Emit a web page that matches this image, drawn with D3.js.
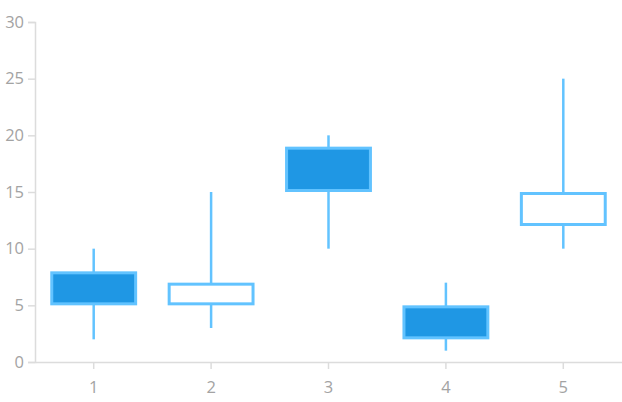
<!DOCTYPE html>
<html>
<head>
<meta charset="utf-8">
<script src="https://cdn.jsdelivr.net/npm/d3@7"></script>
<style>
  html, body { margin: 0; padding: 0; background: #fff; }
  svg { display: block; }
  .tick text { font-family: "Segoe UI", "Open Sans", "Noto Sans", sans-serif; font-weight: 400; font-size: 16.5px; fill: #a3a3a3; }
</style>
</head>
<body>
<svg id="chart" width="622" height="402"></svg>
<script>
const categories = ["1", "2", "3", "4", "5"];
const openValues  = [8, 5, 19, 5, 12];
const highValues  = [10, 15, 20, 7, 25];
const lowValues   = [2, 3, 10, 1, 10];
const closeValues = [5, 7, 15, 2, 15];
const yTicks = [0, 5, 10, 15, 20, 25, 30];

const data = categories.map((c, i) => ({
  cat: c, open: openValues[i], high: highValues[i], low: lowValues[i], close: closeValues[i]
}));

const svg = d3.select("#chart");
const margin = { left: 35, right: 0, top: 22, bottom: 40 };
const W = 622, H = 402;

const x = d3.scaleBand().domain(categories).range([margin.left, W - margin.right]).paddingInner(0).paddingOuter(0);
const y = d3.scaleLinear().domain([0, 30]).range([H - margin.bottom, margin.top]);

const axisColor = "#dcdcdc";

// Y axis
const yAxis = svg.append("g")
  .attr("transform", `translate(${margin.left},0)`)
  .call(d3.axisLeft(y).tickValues(yTicks).tickSize(7).tickPadding(4));
yAxis.select(".domain").attr("stroke", axisColor).attr("stroke-width", 1.5);
yAxis.selectAll(".tick line").attr("stroke", axisColor).attr("stroke-width", 1.5);

// X axis
const xAxis = svg.append("g")
  .attr("transform", `translate(0,${y(0)})`)
  .call(d3.axisBottom(x).tickSize(7).tickPadding(12).tickSizeOuter(0));
xAxis.select(".domain").attr("stroke", axisColor).attr("stroke-width", 1.5);
xAxis.selectAll(".tick line").attr("stroke", axisColor).attr("stroke-width", 1.5);

const strokeColor = "#62c3ff";
const fillColor = "#1f97e4";
const sw = 3;
const bodyWidth = x.bandwidth() * 0.74;

const g = svg.append("g");
const candles = g.selectAll("g.candle").data(data).join("g").attr("class", "candle");

candles.append("line")
  .attr("x1", d => x(d.cat) + x.bandwidth() / 2)
  .attr("x2", d => x(d.cat) + x.bandwidth() / 2)
  .attr("y1", d => y(d.high))
  .attr("y2", d => y(d.low))
  .attr("stroke", strokeColor)
  .attr("stroke-width", 2.5);

candles.append("rect")
  .attr("x", d => x(d.cat) + (x.bandwidth() - bodyWidth) / 2 + sw / 2)
  .attr("y", d => y(Math.max(d.open, d.close)) + sw / 2)
  .attr("width", bodyWidth - sw)
  .attr("height", d => Math.abs(y(d.open) - y(d.close)) - sw)
  .attr("fill", d => d.close < d.open ? fillColor : "#ffffff")
  .attr("stroke", strokeColor)
  .attr("stroke-width", sw);
</script>
</body>
</html>
